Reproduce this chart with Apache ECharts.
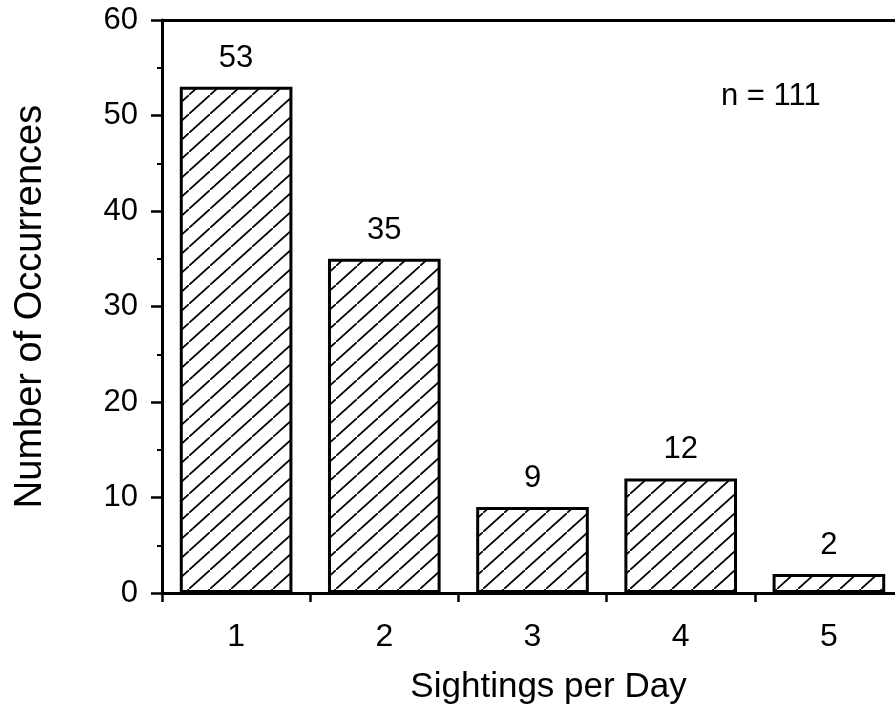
<!DOCTYPE html>
<html>
<head>
<meta charset="utf-8">
<script src="https://cdn.jsdelivr.net/npm/echarts@6/dist/echarts.min.js"></script>
<style>html,body{margin:0;padding:0;background:#fff;}#chart{width:895px;height:724px;}</style>
</head>
<body>
<div id="chart"></div>
<script>
const categories = ['1', '2', '3', '4', '5'];
const occurrences = [53, 35, 9, 12, 2];
const yTicks = [0, 10, 20, 30, 40, 50, 60];
const sampleNote = 'n = 111';

const FONT = '"Liberation Sans", Arial, Helvetica, sans-serif';

// hatch pattern "/"
const tw = 21, th = 19;
const pc = document.createElement('canvas');
pc.width = tw; pc.height = th;
const g = pc.getContext('2d');
g.fillStyle = '#fff';
g.fillRect(0, 0, tw, th);
g.strokeStyle = '#000';
g.lineWidth = 1.7;
g.beginPath();
g.moveTo(-2, th + 2 * th / tw);
g.lineTo(tw + 2, -2 * th / tw);
g.stroke();

const chart = echarts.init(document.getElementById('chart'), null, {renderer: 'canvas'});
chart.setOption({
  backgroundColor: '#fff',
  animation: false,
  grid: {left: 162, width: 741, top: 20, bottom: 131, containLabel: false, outerBoundsMode: 'none'},
  xAxis: [{
    type: 'category',
    data: categories,
    boundaryGap: true,
    name: 'Sightings per Day',
    nameLocation: 'middle',
    nameGap: 77,
    nameTextStyle: {fontFamily: FONT, fontSize: 35, color: '#000', padding: [0, 0, 0, 32]},
    axisLine: {show: true, lineStyle: {color: '#000', width: 3}},
    axisTick: {show: true, inside: false, length: 9, alignWithLabel: false, interval: 0, lineStyle: {color: '#000', width: 2.5}},
    axisLabel: {fontFamily: FONT, fontSize: 32, color: '#000', margin: 28},
    splitLine: {show: false}
  }, {
    type: 'category',
    data: categories,
    position: 'top',
    axisLine: {show: true, lineStyle: {color: '#000', width: 3}},
    axisTick: {show: false},
    axisLabel: {show: false},
    splitLine: {show: false}
  }],
  yAxis: {
    type: 'value',
    min: yTicks[0],
    max: yTicks[yTicks.length - 1],
    interval: 10,
    name: 'Number of Occurrences',
    nameLocation: 'middle',
    nameGap: 112,
    nameTextStyle: {fontFamily: FONT, fontSize: 38, color: '#000'},
    axisLine: {show: true, lineStyle: {color: '#000', width: 3}},
    axisTick: {show: true, inside: false, length: 11, lineStyle: {color: '#000', width: 2.5}},
    minorTick: {show: true, splitNumber: 2, length: 5, lineStyle: {color: '#000', width: 2}},
    axisLabel: {fontFamily: FONT, fontSize: 31, color: '#000', margin: 24},
    splitLine: {show: false},
    minorSplitLine: {show: false}
  },
  series: [{
    type: 'bar',
    data: occurrences,
    barCategoryGap: '24%',
    itemStyle: {color: {image: pc, repeat: 'repeat'}, borderColor: '#000', borderWidth: 3},
    label: {show: true, position: 'top', distance: 13, fontFamily: FONT, fontSize: 31, color: '#000'}
  }],
  graphic: [{
    type: 'text',
    left: 721,
    top: 81,
    style: {text: sampleNote, fontFamily: FONT, fontSize: 31, fill: '#000'}
  }]
});
</script>
</body>
</html>
